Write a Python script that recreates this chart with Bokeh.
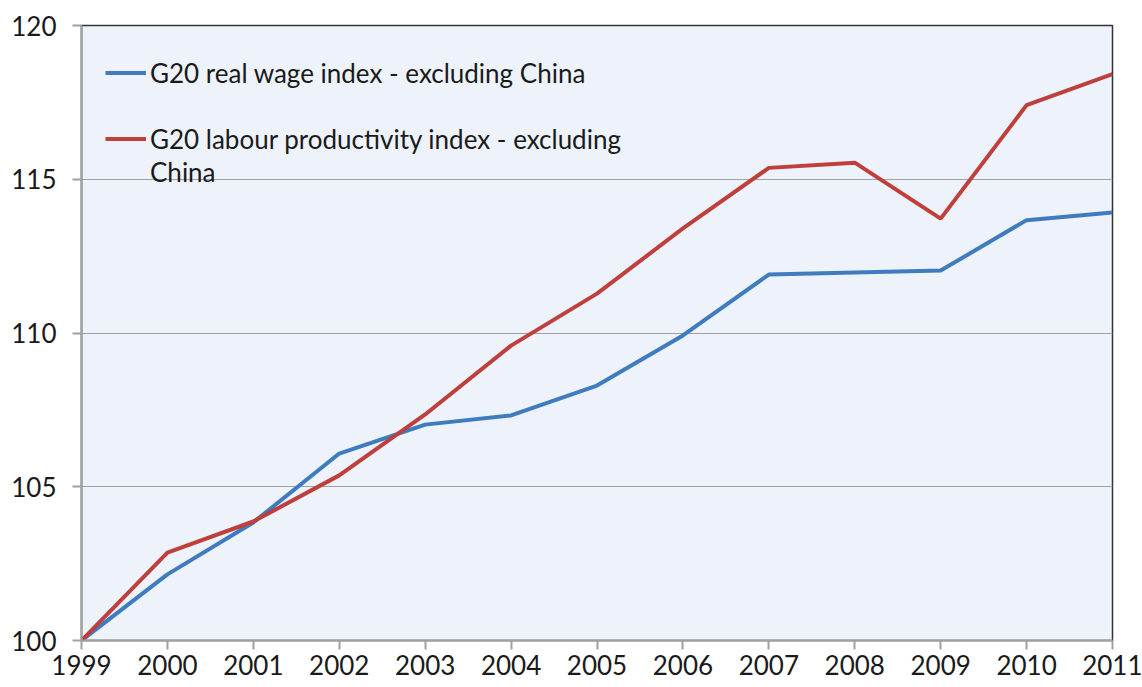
from bokeh.plotting import figure
from bokeh.models import ColumnDataSource, Legend, LegendItem, Range1d, FixedTicker
from bokeh.embed import file_html
from bokeh.resources import INLINE

years = [1999, 2000, 2001, 2002, 2003, 2004, 2005, 2006, 2007, 2008, 2009, 2010, 2011]
wage = [100.0, 102.15, 103.84, 106.08, 107.02, 107.32, 108.29, 109.92, 111.90, 111.97, 112.03, 113.67, 113.92]
productivity = [100.0, 102.86, 103.87, 105.37, 107.35, 109.59, 111.28, 113.40, 115.37, 115.54, 113.72, 117.41, 118.42]
y_ticks = [100, 105, 110, 115, 120]
wage_label = "G20 real wage index - excluding China"
prod_label_1 = "G20 labour productivity index - excluding"
prod_label_2 = "China"

FONT = "Lato"
BLUE = "#3F7CBF"
RED = "#BF3F3D"

p = figure(width=1142, height=687, output_backend="svg", toolbar_location=None,
           x_range=Range1d(1999, 2011), y_range=Range1d(100, 120),
           min_border_left=81, min_border_right=30, min_border_top=25, min_border_bottom=47)
p.background_fill_color = "#EEF2FA"
p.border_fill_color = "white"
p.outline_line_color = "#333333"
p.outline_line_width = 1.5

src = ColumnDataSource(dict(year=years, wage=wage, prod=productivity))
r_wage = p.line("year", "wage", source=src, line_color=BLUE, line_width=4)
r_prod = p.line("year", "prod", source=src, line_color=RED, line_width=4)
r_blank = p.line(x=[], y=[], line_alpha=0)

p.xgrid.visible = False
p.ygrid.grid_line_color = "#A0A0A0"
p.ygrid.grid_line_width = 1.2

for ax in (p.xaxis[0], p.yaxis[0]):
    ax.axis_line_color = "#A0A0A0"
    ax.axis_line_width = 2
    ax.major_tick_line_color = "#A0A0A0"
    ax.major_tick_line_width = 2
    ax.major_tick_out = 9
    ax.major_tick_in = 0
    ax.minor_tick_line_color = None
    ax.major_label_text_font = FONT
    ax.major_label_text_font_size = "26px"
    ax.major_label_text_color = "#1a1a1a"

p.xaxis.ticker = FixedTicker(ticks=years)
p.yaxis.ticker = FixedTicker(ticks=y_ticks)
p.xaxis.major_label_standoff = 5
p.yaxis.major_label_standoff = 16

legend = Legend(items=[
    LegendItem(label=wage_label, renderers=[r_wage]),
    LegendItem(label=" ", renderers=[r_blank]),
    LegendItem(label=prod_label_1, renderers=[r_prod]),
    LegendItem(label=prod_label_2, renderers=[r_blank]),
], location=(24, 452))
legend.background_fill_alpha = 0
legend.border_line_color = None
legend.label_text_font = FONT
legend.label_text_font_size = "26px"
legend.label_text_color = "#1a1a1a"
legend.glyph_width = 41
legend.glyph_height = 33
legend.label_height = 33
legend.label_standoff = 4
legend.spacing = 0
legend.padding = 0
legend.margin = 0
p.add_layout(legend, "center")

open("out.html", "w").write(file_html(p, INLINE))
